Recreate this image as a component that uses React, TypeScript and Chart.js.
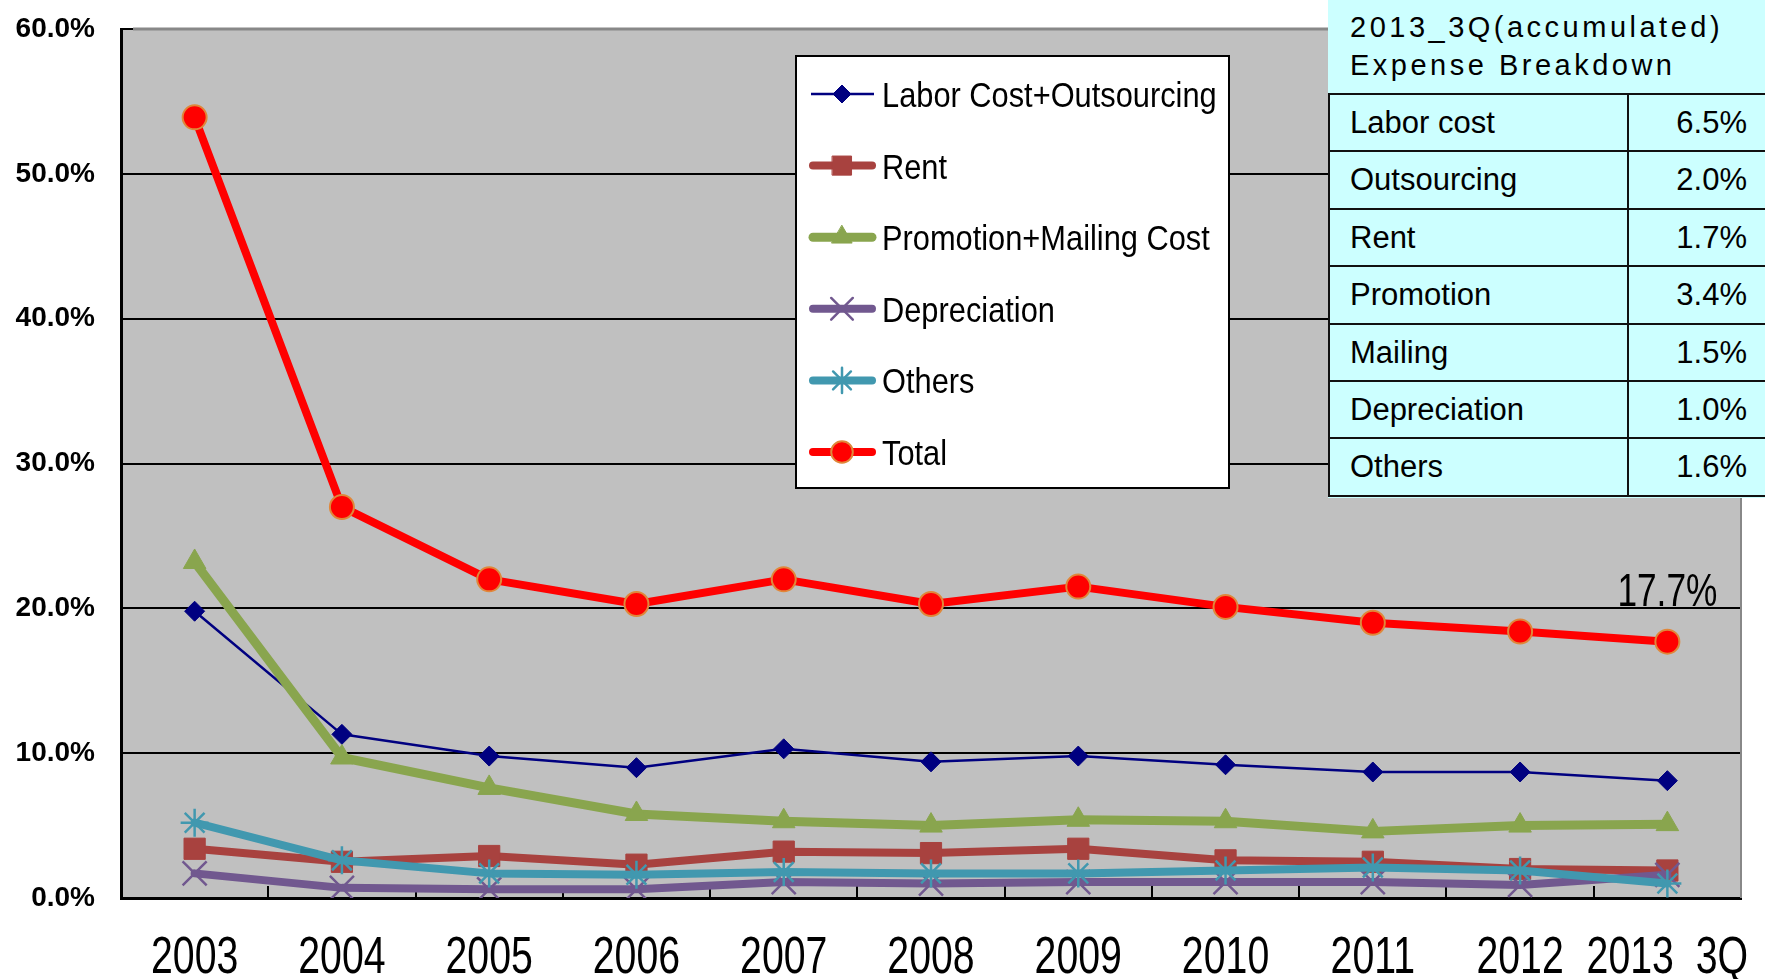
import React, { useEffect, useRef } from 'react';
import { Chart, registerables } from 'chart.js';
import { drawPoint } from 'chart.js/helpers';

Chart.register(...registerables);

// ---------- data ----------
const categories = ['2003', '2004', '2005', '2006', '2007', '2008', '2009', '2010', '2011', '2012', '2013_3Q'];
const laborOutsourcing = [19.8, 11.3, 9.8, 9.0, 10.3, 9.4, 9.8, 9.2, 8.7, 8.7, 8.1];
const rent = [3.4, 2.5, 2.9, 2.3, 3.2, 3.1, 3.4, 2.6, 2.5, 2.0, 1.9];
const promotionMailing = [23.2, 9.7, 7.6, 5.8, 5.3, 5.0, 5.4, 5.3, 4.6, 5.0, 5.1];
const depreciation = [1.7, 0.7, 0.6, 0.6, 1.1, 1.0, 1.1, 1.1, 1.1, 0.9, 1.6];
const others = [5.2, 2.6, 1.7, 1.6, 1.8, 1.7, 1.7, 1.9, 2.1, 1.9, 1.0];
const total = [53.9, 27.0, 22.0, 20.3, 22.0, 20.3, 21.5, 20.1, 19.0, 18.4, 17.7];

const seriesNames = ['Labor Cost+Outsourcing', 'Rent', 'Promotion+Mailing Cost', 'Depreciation', 'Others', 'Total'];
const seriesValues = [laborOutsourcing, rent, promotionMailing, depreciation, others, total];

const yMin = 0;
const yMax = 60;
const yStep = 10;

const tableTitle = ['2013_3Q(accumulated)', 'Expense Breakdown'];
const tableLabels = ['Labor cost', 'Outsourcing', 'Rent', 'Promotion', 'Mailing', 'Depreciation', 'Others'];
const tableValues = ['6.5%', '2.0%', '1.7%', '3.4%', '1.5%', '1.0%', '1.6%'];

// ---------- styles ----------
const W = 1765;
const H = 979;
const FONT = '"Liberation Sans", Arial, sans-serif';

const seriesStyles = [
  { color: '#000080', lw: 2.5, pointStyle: 'rectRot', r: 10, fill: '#000080', border: '#000080', bw: 1 },
  { color: '#A8423F', lw: 8, pointStyle: 'rect', r: 15, fill: '#A8423F', border: '#A8423F', bw: 1 },
  { color: '#89A54E', lw: 9, pointStyle: 'triangle', r: 13, fill: '#89A54E', border: '#89A54E', bw: 1 },
  { color: '#71588F', lw: 8, pointStyle: 'crossRot', r: 17, fill: '#71588F', border: '#71588F', bw: 2.5 },
  { color: '#4198AF', lw: 8, pointStyle: 'star', r: 14, fill: '#4198AF', border: '#4198AF', bw: 2.5 },
  { color: '#FF0000', lw: 8, pointStyle: 'circle', r: 12, fill: '#FF0000', border: '#E0873A', bw: 2 },
];

function scaledText(ctx: CanvasRenderingContext2D, text: string, x: number, y: number, font: string, sx: number, align: CanvasTextAlign) {
  ctx.save();
  ctx.font = font;
  ctx.fillStyle = '#000';
  ctx.textAlign = align;
  ctx.textBaseline = 'alphabetic';
  ctx.translate(x, y);
  ctx.scale(sx, 1);
  ctx.fillText(text, 0, 0);
  ctx.restore();
}

const backgroundPlugin = {
  id: 'plotBackground',
  beforeDraw(chart: any) {
    const { ctx, chartArea: a } = chart;
    ctx.save();
    ctx.fillStyle = '#C0C0C0';
    ctx.fillRect(a.left, a.top, a.right - a.left, a.bottom - a.top);
    ctx.restore();
  },
  beforeDatasetsDraw(chart: any) {
    const { ctx, chartArea: a } = chart;
    const xs = chart.scales.x;
    ctx.save();
    ctx.strokeStyle = '#000';
    ctx.lineWidth = 2;
    for (let i = 0; i < categories.length - 1; i++) {
      const x = Math.round((xs.getPixelForValue(i) + xs.getPixelForValue(i + 1)) / 2);
      ctx.beginPath();
      ctx.moveTo(x, a.bottom);
      ctx.lineTo(x, a.bottom - 12);
      ctx.stroke();
    }
    ctx.restore();
  },
};

const overlayPlugin = {
  id: 'overlay',
  afterDraw(chart: any) {
    const { ctx, chartArea: a } = chart;
    const xs = chart.scales.x;
    const ys = chart.scales.y;
    // gray frame top & right
    ctx.save();
    ctx.strokeStyle = '#888888';
    ctx.lineWidth = 3;
    ctx.beginPath();
    ctx.moveTo(a.left + 12, a.top);
    ctx.lineTo(a.right, a.top);
    ctx.stroke();
    ctx.lineWidth = 2;
    ctx.beginPath();
    ctx.moveTo(a.right, a.top);
    ctx.lineTo(a.right, a.bottom);
    ctx.stroke();
    ctx.restore();

    // x labels (condensed)
    const labels: string[] = chart.data.labels;
    labels.forEach((lab, i) => {
      scaledText(ctx, lab, xs.getPixelForValue(i), a.bottom + 75, `51px ${FONT}`, 0.77, 'center');
    });

    // last total label
    const n = total.length;
    scaledText(ctx, total[n - 1].toFixed(1) + '%', xs.getPixelForValue(n - 1) + 50, ys.getPixelForValue(20) - 2, `47px ${FONT}`, 0.75, 'right');

    // legend
    const bx = 796, by = 56, bw = 433, bh = 432;
    ctx.save();
    ctx.fillStyle = '#FFFFFF';
    ctx.fillRect(bx, by, bw, bh);
    ctx.strokeStyle = '#000';
    ctx.lineWidth = 2;
    ctx.strokeRect(bx, by, bw, bh);
    ctx.restore();
    seriesNames.forEach((name, i) => {
      const st = seriesStyles[i];
      const cy = by + 38 + i * 71.6;
      ctx.save();
      ctx.strokeStyle = st.color;
      ctx.lineWidth = st.lw;
      ctx.lineCap = i === 0 ? 'butt' : 'round';
      ctx.beginPath();
      ctx.moveTo(bx + (i === 0 ? 15 : 17), cy);
      ctx.lineTo(bx + (i === 0 ? 78 : 76), cy);
      ctx.stroke();
      ctx.fillStyle = st.fill;
      ctx.strokeStyle = st.border;
      ctx.lineWidth = st.bw;
      drawPoint(ctx, { pointStyle: st.pointStyle as any, radius: st.r * 0.9, rotation: 0, borderWidth: st.bw }, bx + 46, cy);
      ctx.restore();
      scaledText(ctx, name, bx + 86, cy + 13, `35px ${FONT}`, 0.88, 'left');
    });
  },
};

export default function App() {
  const ref = useRef<HTMLCanvasElement>(null);
  useEffect(() => {
    const datasets = seriesNames.map((name, i) => {
      const st = seriesStyles[i];
      return {
        label: name,
        data: seriesValues[i],
        borderColor: st.color,
        borderWidth: st.lw,
        backgroundColor: st.fill,
        pointStyle: st.pointStyle,
        pointRadius: st.r,
        pointBackgroundColor: st.fill,
        pointBorderColor: st.border,
        pointBorderWidth: st.bw,
        borderCapStyle: 'round',
        borderJoinStyle: 'round',
        tension: 0,
        fill: false,
        order: seriesNames.length - 1 - i,
      };
    });
    const chart = new Chart(ref.current as HTMLCanvasElement, {
      type: 'line',
      data: { labels: categories, datasets: datasets as any },
      options: {
        animation: false,
        responsive: false,
        devicePixelRatio: 1,
        layout: { padding: { top: 29, right: 24, left: 0, bottom: 0 } },
        plugins: { legend: { display: false }, tooltip: { enabled: false } },
        scales: {
          x: {
            type: 'category',
            offset: true,
            grid: { display: false, drawTicks: false },
            border: { display: true, color: '#000', width: 3 },
            ticks: { display: false },
            afterFit: (s: any) => { s.height = 81; s.paddingLeft = 0; s.paddingRight = 0; },
          },
          y: {
            min: yMin,
            max: yMax,
            ticks: {
              stepSize: yStep,
              color: '#000',
              padding: 26,
              font: { family: FONT, weight: 'bold', size: 28 },
              callback: (v: any) => Number(v).toFixed(1) + '%',
            },
            grid: { color: '#000', lineWidth: 2, drawTicks: false },
            border: { display: true, color: '#000', width: 3 },
            afterFit: (s: any) => { s.width = 121; s.paddingTop = 0; s.paddingBottom = 0; },
          },
        },
      } as any,
      plugins: [backgroundPlugin, overlayPlugin],
    });
    return () => chart.destroy();
  }, []);

  const rowTop = 93;
  const rowH = 57.4;
  return (
    <div style={{ position: 'fixed', left: 0, top: 0, width: W, height: H, background: '#fff', overflow: 'hidden' }}>
      <canvas ref={ref} width={W} height={H} style={{ display: 'block', width: W, height: H }} />
      <div
        style={{
          position: 'absolute', left: 1328, top: 0, width: W - 1328, height: 498,
          background: '#CCFFFF', overflow: 'hidden', fontFamily: FONT, color: '#000',
        }}
      >
        <div style={{ position: 'absolute', left: 22, top: 0, paddingTop: 8, fontSize: 29, lineHeight: '38px', letterSpacing: 3.5, whiteSpace: 'nowrap' }}>
          <div>{tableTitle[0]}</div>
          <div>{tableTitle[1]}</div>
        </div>
        {tableLabels.map((lab, i) => (
          <div
            key={lab}
            style={{
              position: 'absolute', left: 0, top: rowTop + i * rowH, width: 600, height: rowH + 2,
              boxSizing: 'border-box', borderTop: '2px solid #111', borderLeft: '2px solid #111',
              borderBottom: i === tableLabels.length - 1 ? '2px solid #111' : 'none',
            }}
          >
            <div style={{ position: 'absolute', left: 20, top: 0, fontSize: 31, lineHeight: `${rowH - 2}px`, whiteSpace: 'nowrap' }}>{lab}</div>
            <div
              style={{
                position: 'absolute', left: 297, top: -2, width: 120, height: rowH + 2, boxSizing: 'border-box',
                borderLeft: '2px solid #111', paddingTop: 2, textAlign: 'right', fontSize: 31, lineHeight: `${rowH - 2}px`,
              }}
            >
              {tableValues[i]}
            </div>
          </div>
        ))}
      </div>
    </div>
  );
}
